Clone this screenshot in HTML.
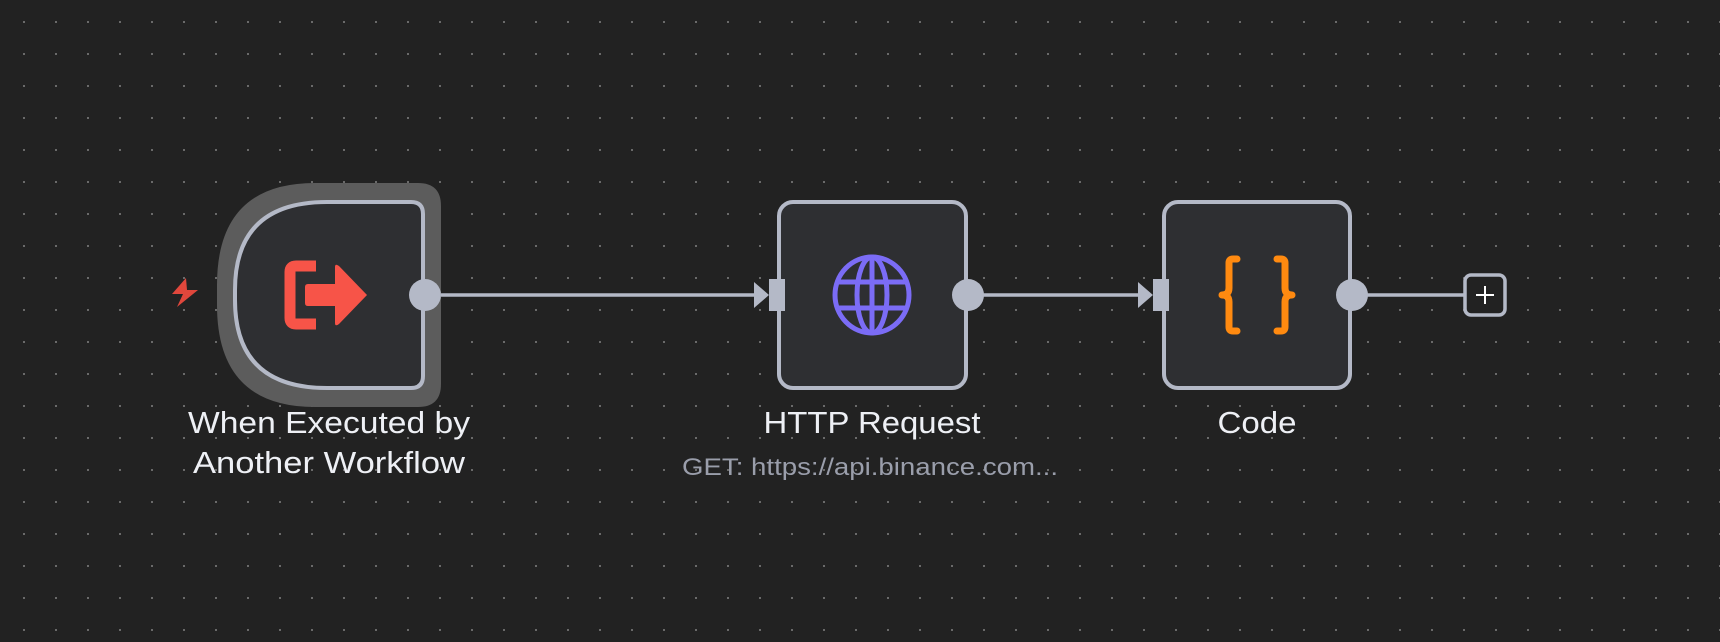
<!DOCTYPE html>
<html><head><meta charset="utf-8"><style>
html,body{margin:0;padding:0;background:#222222;}
svg{display:block}
text{font-family:"Liberation Sans",sans-serif}
</style></head><body>
<svg width="1720" height="642" viewBox="0 0 1720 642" xmlns="http://www.w3.org/2000/svg">
<defs>
<pattern id="dots" x="23" y="21" width="32" height="32" patternUnits="userSpaceOnUse">
<rect x="0" y="0" width="2" height="2" fill="#6a6a6a"/>
</pattern>
</defs>
<rect width="1720" height="642" fill="#222222"/>
<rect width="1720" height="642" fill="url(#dots)"/>

<!-- connectors -->
<line x1="425" y1="295" x2="756" y2="295" stroke="#b4b9c7" stroke-width="3.5"/>
<polygon points="754,282 769,295 754,308" fill="#b4b9c7"/>
<line x1="968" y1="295" x2="1140" y2="295" stroke="#b4b9c7" stroke-width="3.5"/>
<polygon points="1138,282 1153,295 1138,308" fill="#b4b9c7"/>
<line x1="1352" y1="295" x2="1464" y2="295" stroke="#b4b9c7" stroke-width="3.5"/>

<!-- trigger halo -->
<path d="M315,183 H418 Q441,183 441,206 V384 Q441,407 418,407 H315 Q217,407 217,305 V285 Q217,183 315,183 Z" fill="#5c5c5c"/>
<!-- trigger node -->
<path d="M327,202 H411 Q423,202 423,214 V376 Q423,388 411,388 H327 Q235,388 235,300 V290 Q235,202 327,202 Z" fill="#2e2f32" stroke="#b4b9c7" stroke-width="4"/>
<!-- trigger icon -->
<path d="M316,266 H296 Q290,266 290,272 V318 Q290,324 296,324 H316" fill="none" stroke="#f75448" stroke-width="11" stroke-linejoin="round"/>
<path d="M308,284 H335 V267 Q335,263 339,266 L367,295 L339,324 Q335,327 335,323 V306 H308 Q305,306 305,303 V287 Q305,284 308,284 Z" fill="#f75448"/>
<!-- lightning -->
<path d="M186,278 L172,294 L183,294 L177,307 L198,290 L187,290 Z" fill="#e0473c"/>
<circle cx="425" cy="295" r="16" fill="#b4b9c7"/>

<!-- HTTP node -->
<rect x="779" y="202" width="187" height="186" rx="14" fill="#2e2f32" stroke="#b4b9c7" stroke-width="4"/>
<rect x="769" y="279" width="16" height="32" fill="#b4b9c7"/>
<g fill="none" stroke="#7b6cf6" stroke-width="5">
<ellipse cx="872" cy="295" rx="37" ry="38"/>
<ellipse cx="872" cy="295" rx="15" ry="38"/>
<line x1="872" y1="257" x2="872" y2="333"/>
<line x1="836" y1="282" x2="908" y2="282"/>
<line x1="836" y1="308" x2="908" y2="308"/>
</g>
<circle cx="968" cy="295" r="16" fill="#b4b9c7"/>

<!-- Code node -->
<rect x="1164" y="202" width="186" height="186" rx="14" fill="#2e2f32" stroke="#b4b9c7" stroke-width="4"/>
<rect x="1153" y="279" width="16" height="32" fill="#b4b9c7"/>
<g fill="none" stroke="#ff8a10" stroke-width="7" stroke-linecap="round" stroke-linejoin="round">
<path d="M1237,259 H1233 Q1229,259 1229,263 V288 Q1229,295 1222,295 Q1229,295 1229,302 V327 Q1229,331 1233,331 H1237"/>
<path d="M1277,259 H1281 Q1285,259 1285,263 V288 Q1285,295 1292,295 Q1285,295 1285,302 V327 Q1285,331 1281,331 H1277"/>
</g>
<circle cx="1352" cy="295" r="16" fill="#b4b9c7"/>

<!-- plus -->
<rect x="1465" y="275" width="40" height="40" rx="6" fill="#222222" stroke="#b4b9c7" stroke-width="3.5"/>
<line x1="1485" y1="286" x2="1485" y2="304" stroke="#ffffff" stroke-width="2"/>
<line x1="1476" y1="295" x2="1494" y2="295" stroke="#ffffff" stroke-width="2"/>

<!-- labels -->
<text x="329" y="433" font-size="31" fill="#eef0f5" text-anchor="middle" textLength="282" lengthAdjust="spacingAndGlyphs">When Executed by</text>
<text x="329" y="473" font-size="31" fill="#eef0f5" text-anchor="middle" textLength="272" lengthAdjust="spacingAndGlyphs">Another Workflow</text>
<text x="872" y="433" font-size="31" fill="#eef0f5" text-anchor="middle" textLength="217" lengthAdjust="spacingAndGlyphs">HTTP Request</text>
<text x="1257" y="433" font-size="31" fill="#eef0f5" text-anchor="middle" textLength="79" lengthAdjust="spacingAndGlyphs">Code</text>
<text x="870" y="475" font-size="24" fill="#9a9eab" text-anchor="middle" textLength="376" lengthAdjust="spacingAndGlyphs">GET: https://api.binance.com...</text>
</svg>
</body></html>
